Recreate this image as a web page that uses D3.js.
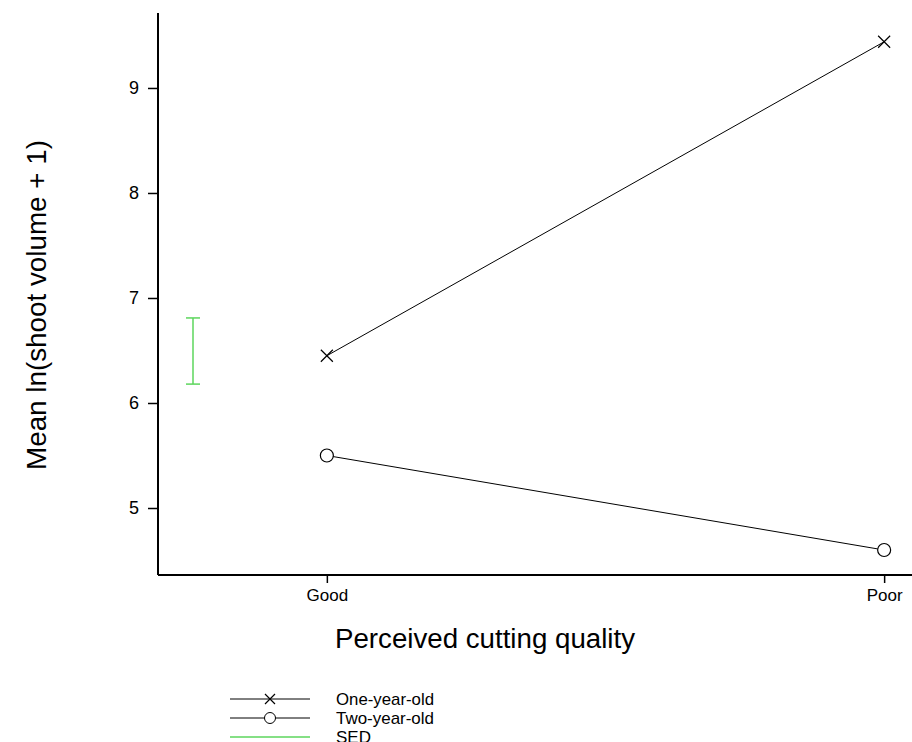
<!DOCTYPE html>
<html>
<head>
<meta charset="utf-8">
<script src="https://cdn.jsdelivr.net/npm/d3@7"></script>
<style>
  body { margin: 0; background: #fff; }
  svg { display: block; font-family: "Liberation Sans", Arial, sans-serif; }
</style>
</head>
<body>
<svg id="chart" width="912" height="742"></svg>
<script>
const categories = ["Good", "Poor"];
const oneYearOld = [6.45, 9.44];
const twoYearOld = [5.50, 4.60];
const sed = [6.18, 6.81];
const yTicks = [5, 6, 7, 8, 9];
const legendLabels = ["One-year-old", "Two-year-old", "SED"];

const svg = d3.select("#chart");

const x = d3.scaleLinear().domain([0.697, 2.05]).range([158, 912]);
const y = d3.scaleLinear().domain([4.362, 9.714]).range([575, 13]);

// axes
svg.append("g")
  .attr("transform", "translate(158,0)")
  .attr("font-size", 18)
  .attr("font-family", "Liberation Sans")
  .call(d3.axisLeft(y).tickValues(yTicks).tickSize(10).tickPadding(9).tickFormat(d3.format("d")))
  .call(g => g.select(".domain").attr("stroke-width", 2).attr("d", `M0,${y.range()[1]}V${y.range()[0]}`))
  .call(g => g.selectAll(".tick line").attr("stroke-width", 1.5))
  .call(g => g.selectAll("text").style("font-size", "18px"));

svg.append("g")
  .attr("transform", "translate(0,575)")
  .call(d3.axisBottom(x).tickValues([1, 2]).tickSize(8).tickPadding(6).tickFormat((d, i) => categories[i]))
  .call(g => g.select(".domain").attr("stroke-width", 2).attr("d", `M${x.range()[0]},0H${x.range()[1]}`))
  .call(g => g.selectAll(".tick line").attr("stroke-width", 1.5))
  .call(g => g.selectAll("text").style("font-size", "17px"));

// titles
svg.append("text")
  .attr("transform", "translate(46,305) rotate(-90)")
  .attr("text-anchor", "middle")
  .attr("font-size", 28)
  .attr("textLength", 330)
  .attr("lengthAdjust", "spacingAndGlyphs")
  .text("Mean ln(shoot volume + 1)");

svg.append("text")
  .attr("x", 485)
  .attr("y", 648)
  .attr("text-anchor", "middle")
  .attr("font-size", 27)
  .attr("textLength", 300)
  .attr("lengthAdjust", "spacingAndGlyphs")
  .text("Perceived cutting quality");

// lines
const line = d3.line().x((d, i) => x(i + 1)).y(d => y(d));
svg.append("path").datum(oneYearOld).attr("d", line).attr("fill", "none").attr("stroke", "#000").attr("stroke-width", 1);
svg.append("path").datum(twoYearOld).attr("d", line).attr("fill", "none").attr("stroke", "#000").attr("stroke-width", 1);

const cross = (g, cx, cy, s) => g.append("path")
  .attr("d", `M${cx - s},${cy - s}L${cx + s},${cy + s}M${cx - s},${cy + s}L${cx + s},${cy - s}`)
  .attr("stroke", "#000").attr("stroke-width", 1.2).attr("fill", "none");

oneYearOld.forEach((v, i) => cross(svg, x(i + 1), y(v), 6));
svg.selectAll("circle.two").data(twoYearOld).join("circle")
  .attr("class", "two")
  .attr("cx", (d, i) => x(i + 1)).attr("cy", d => y(d)).attr("r", 6.5)
  .attr("fill", "#fff").attr("stroke", "#000").attr("stroke-width", 1.2);

// SED bar
const sedX = 193;
const green = "#5cd65c";
svg.append("line").attr("x1", sedX).attr("x2", sedX).attr("y1", y(sed[0])).attr("y2", y(sed[1])).attr("stroke", green).attr("stroke-width", 1.5);
sed.forEach(v => svg.append("line").attr("x1", sedX - 7).attr("x2", sedX + 7).attr("y1", y(v)).attr("y2", y(v)).attr("stroke", green).attr("stroke-width", 1.5));

// legend
const legend = svg.append("g").attr("transform", "translate(230,699)");
legendLabels.forEach((lab, i) => {
  const row = legend.append("g").attr("transform", `translate(0,${i * 19})`);
  row.append("line").attr("x1", 0).attr("x2", 80).attr("y1", 0).attr("y2", 0)
    .attr("stroke", i === 2 ? green : "#000").attr("stroke-width", i === 2 ? 1.5 : 1);
  if (i === 0) cross(row, 40, 0, 5);
  if (i === 1) row.append("circle").attr("cx", 40).attr("cy", 0).attr("r", 5.5).attr("fill", "#fff").attr("stroke", "#000");
  row.append("text").attr("x", 106).attr("y", 6).attr("font-size", 17)
    .attr("textLength", 97).attr("lengthAdjust", "spacingAndGlyphs").attr("textLength", i === 2 ? null : 98).text(lab);
});
</script>
</body>
</html>
